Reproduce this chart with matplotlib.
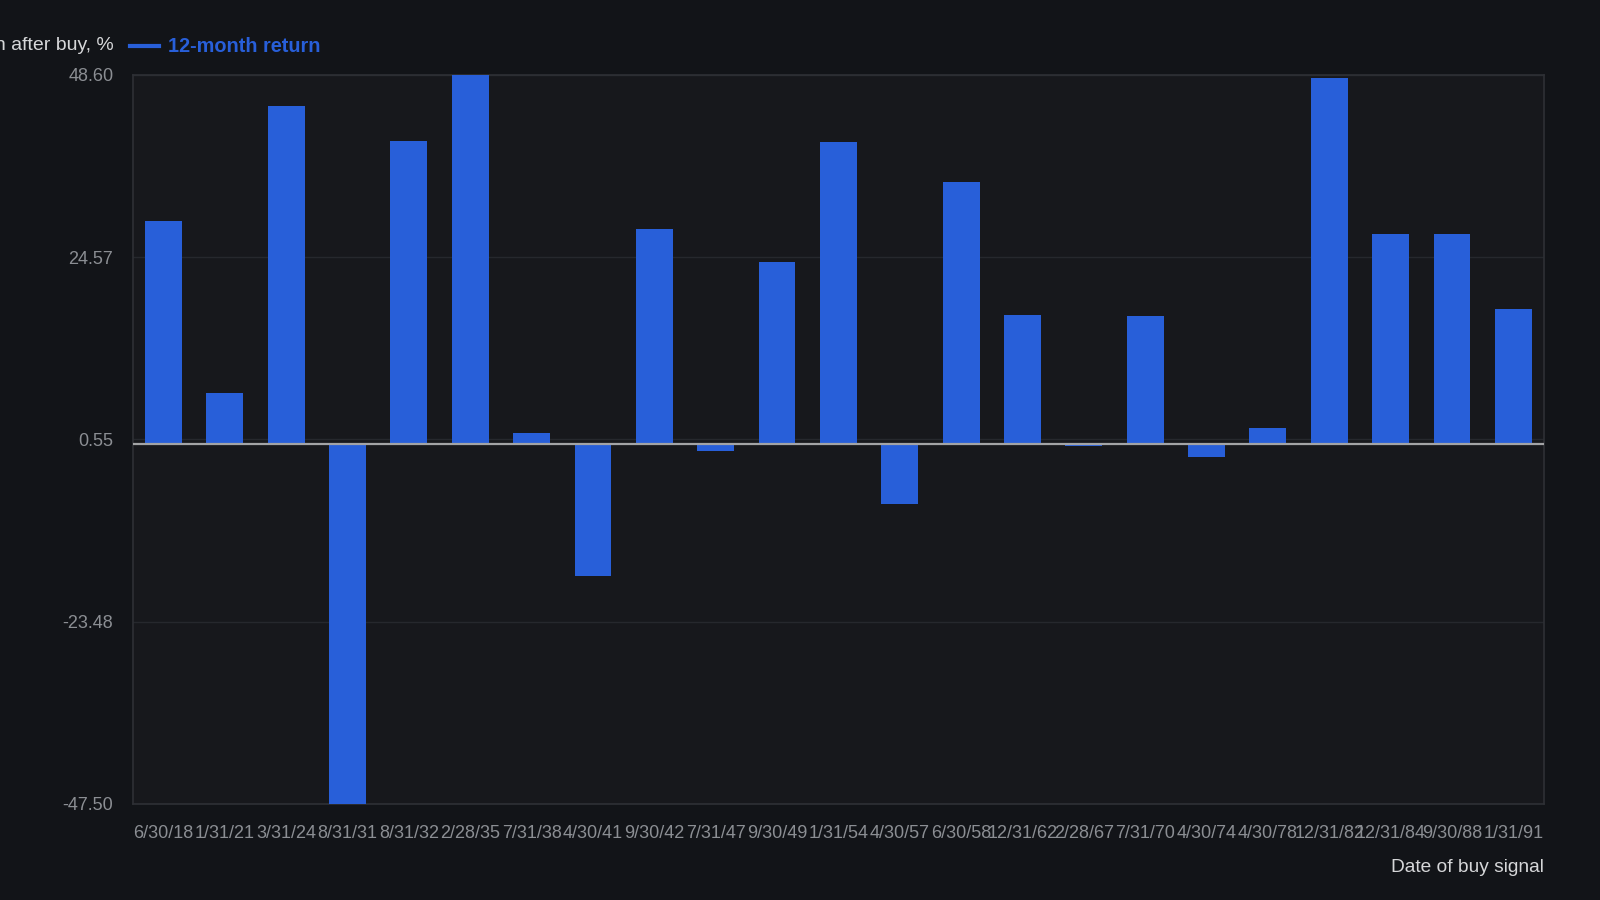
import matplotlib
matplotlib.use("Agg")
import matplotlib.pyplot as plt
from matplotlib.lines import Line2D
import numpy as np

dates = ["6/30/18", "1/31/21", "3/31/24", "8/31/31", "8/31/32", "2/28/35", "7/31/38",
         "4/30/41", "9/30/42", "7/31/47", "9/30/49", "1/31/54", "4/30/57", "6/30/58",
         "12/31/62", "2/28/67", "7/31/70", "4/30/74", "4/30/78", "12/31/82", "12/31/84",
         "9/30/88", "1/31/91"]
returns = [29.4, 6.7, 44.5, -47.5, 39.9, 48.6, 1.4,
           -17.5, 28.3, -1.0, 23.9, 39.7, -7.9, 34.5,
           17.0, -0.3, 16.8, -1.8, 2.1, 48.2, 27.7,
           27.7, 17.8]
y_ticks = [48.60, 24.57, 0.55, -23.48, -47.50]
series_name = "12-month return"
y_title = "Return after buy, %"
x_title = "Date of buy signal"

FIG_BG = "#121418"
AX_BG = "#17181c"
BAR = "#285fd9"
GRID = "#26282d"
FRAME = "#2e3035"
TICK = "#8b8e93"
LABEL = "#d6d7d9"

plt.rcParams['font.family'] = ['Liberation Sans', 'DejaVu Sans']

fig = plt.figure(figsize=(16, 9), dpi=100, facecolor=FIG_BG)
ax = fig.add_axes([0.083, 0.1067, 0.882, 0.81])
ax.set_facecolor(AX_BG)

x = np.arange(len(dates))
ax.bar(x, returns, width=0.6, color=BAR, zorder=3)
ax.axhline(0, color="#a3a4a6", lw=1.6, zorder=4)

ax.set_xlim(-0.5, len(dates) - 0.5)
ax.set_ylim(min(y_ticks), max(y_ticks))
ax.set_yticks(y_ticks)
ax.set_yticklabels([f"{v:.2f}" for v in y_ticks])
ax.set_xticks(x)
ax.set_xticklabels(dates)
ax.tick_params(axis='both', length=0, labelsize=13, colors=TICK)
ax.tick_params(axis='x', pad=15)
ax.tick_params(axis='y', pad=14)
ax.yaxis.grid(True, color=GRID, lw=1, zorder=0)
ax.xaxis.grid(False)
for s in ax.spines.values():
    s.set_color(FRAME)
    s.set_linewidth(1.2)

# y-axis title (horizontal, top-left; partially off the canvas as in the source)
fig.text(114 / 1600, 1 - 45 / 900, y_title, ha='right', va='center',
         fontsize=14, color=LABEL)
# legend
fig.add_artist(Line2D([130 / 1600, 159 / 1600], [1 - 46 / 900, 1 - 46 / 900],
                      color=BAR, lw=3, transform=fig.transFigure))
fig.text(168 / 1600, 1 - 46 / 900, series_name, ha='left', va='center',
         fontsize=14.3, fontweight='bold', color=BAR)
# x-axis title
fig.text(1544 / 1600, 1 - 867 / 900, x_title, ha='right', va='center',
         fontsize=13.8, color=LABEL)

fig.savefig("out.png", dpi=100, facecolor=FIG_BG)
